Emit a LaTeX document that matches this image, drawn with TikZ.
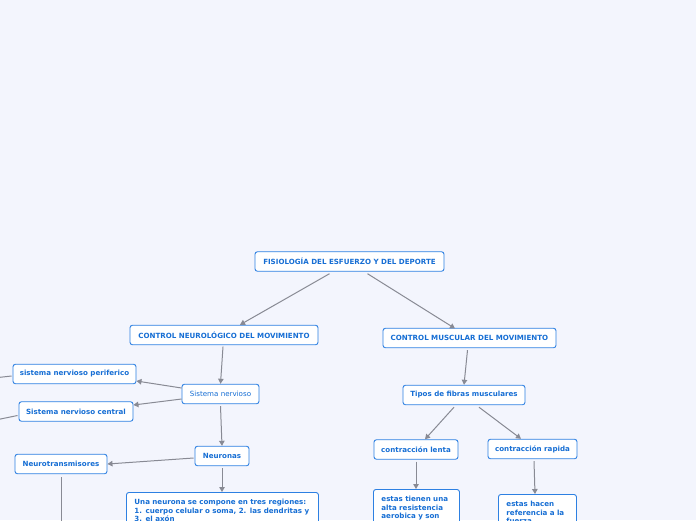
\documentclass[tikz,border=0pt]{standalone}
\usepackage{fontspec}
\setmainfont{DejaVu Sans}
\usetikzlibrary{arrows.meta}
\definecolor{bgc}{RGB}{243,245,253}
\definecolor{nodeblue}{RGB}{45,128,226}
\definecolor{textblue}{RGB}{22,110,212}
\definecolor{linegray}{RGB}{136,138,148}
\tikzset{
  box/.style={draw=nodeblue, line width=0.9pt, rounded corners=2.5pt, fill=white,
    text=textblue, font=\fontsize{7.1}{8.7}\selectfont\bfseries, inner sep=0pt,
    minimum height=19.5pt},
  plainbox/.style={box, font=\fontsize{7.1}{8.7}\selectfont},
  textbox/.style={box, anchor=north west, align=left, inner xsep=8pt, inner ysep=6.5pt},
  conn/.style={draw=linegray, line width=1pt, -{Triangle[width=5.5pt,length=5pt]}},
  plainconn/.style={draw=linegray, line width=1pt},
}
\begin{document}
\begin{tikzpicture}[x=1pt,y=-1pt]
\useasboundingbox (0,0) rectangle (696,520);
\clip (0,0) rectangle (696,520);
\fill[bgc] (0,0) rectangle (696,520);

\node[box, minimum width=189pt] (root) at (349.5,261.5) {FISIOLOGÍA DEL ESFUERZO Y DEL DEPORTE};
\node[box, minimum width=188pt] (cnm) at (224,335) {CONTROL NEUROLÓGICO DEL MOVIMIENTO};
\node[box, minimum width=173pt] (cmm) at (469.5,338) {CONTROL MUSCULAR DEL MOVIMIENTO};
\node[plainbox, minimum width=77pt] (sn) at (220.5,394) {Sistema nervioso};
\node[box, minimum width=123pt] (snp) at (74.5,374) {sistema nervioso periferico};
\node[box, minimum width=114pt] (snc) at (76,411.5) {Sistema nervioso central};
\node[box, minimum width=54pt] (neu) at (222,456) {Neuronas};
\node[box, minimum width=92pt] (ntr) at (61,464) {Neurotransmisores};
\node[textbox, text width=176pt] (una) at (126,492)
  {Una neurona se compone en tres regiones:\\1. cuerpo celular o soma, 2. las dendritas y\\3. el axón\\\mbox{}\\\mbox{}};
\node[box, minimum width=122pt] (tip) at (464,395) {Tipos de fibras musculares};
\node[box, minimum width=84pt] (len) at (416,449.5) {contracción lenta};
\node[box, minimum width=89pt] (rap) at (532.5,449) {contracción rapida};
\node[textbox, text width=70pt] (tie) at (373,489)
  {estas tienen una\\alta resistencia\\aerobica y son\\\mbox{}\\\mbox{}};
\node[textbox, text width=62pt] (hac) at (498,494)
  {estas hacen\\referencia a la\\fuerza\\\mbox{}\\\mbox{}};

\coordinate (offa) at (-2,377.5);
\coordinate (offb) at (-2,419.5);
\coordinate (offc) at (61,530);

\path (root.south) ++(-20,2) coordinate (r1) ++(38,0) coordinate (r2);
\draw[conn] (r1) -- (cnm.north -| 240,0);
\draw[conn] (r2) -- (455,328.5);
\draw[conn] (cnm.south) ++(-1,1.5) -- (sn.north);
\draw[conn] (sn.west) ++(0,-6) -- (snp.east |- 0,381);
\draw[conn] (sn.west) ++(0,5) -- (snc.east |- 0,405);
\draw[plainconn] (snp.west) ++(-1,2) -- (offa);
\draw[plainconn] (snc.west) ++(-1,4) -- (offb);
\draw[conn] (sn.south) ++(0,2) -- (neu.north);
\draw[conn] (neu.west) ++(-1,2) -- (ntr.east);
\draw[plainconn] (ntr.south) ++(0,3) -- (offc);
\draw[conn] (neu.south) ++(0,2) -- (una.north -| neu.south);
\draw[conn] (cmm.south) ++(-2,2) -- (tip.north);
\draw[conn] (tip.south) ++(-10,2) -- (len.north -| 425,0);
\draw[conn] (tip.south) ++(15,2) -- (rap.north -| 521,0);
\draw[conn] (len.south) ++(0,2) -- (len.south |- tie.north);
\draw[conn] (rap.south) ++(1.5,2) -- (535,494);
\end{tikzpicture}
\end{document}
